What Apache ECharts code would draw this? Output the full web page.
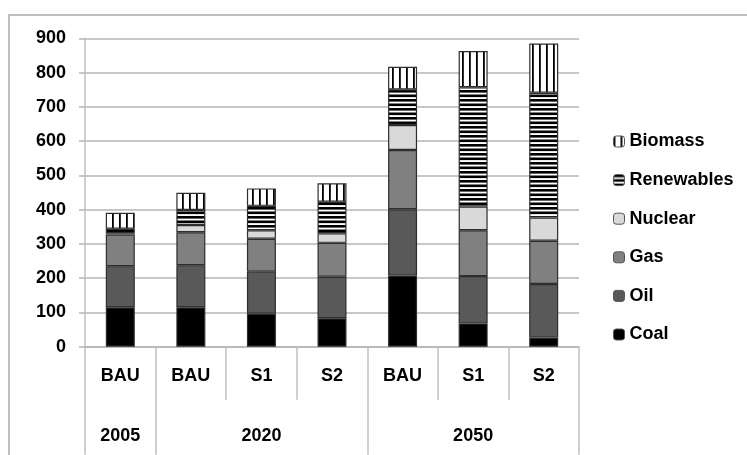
<!DOCTYPE html>
<html>
<head>
<meta charset="utf-8">
<script src="https://cdn.jsdelivr.net/npm/echarts@6/dist/echarts.min.js"></script>
<style>
html,body{margin:0;padding:0;background:#fff;}
#c{width:747px;height:455px;}
</style>
</head>
<body>
<div id="c"></div>
<script>
// ---- data ----
var scenarios = ['BAU', 'BAU', 'S1', 'S2', 'BAU', 'S1', 'S2'];
var yearLabels = ['2005', '', '2020', '', '', '2050', ''];
var yearGroupStarts = [0, 1, 4];
var coal = [115, 115, 96, 83, 208, 68, 27];
var oil = [120, 123, 123, 121, 193, 138, 156];
var gas = [92, 96, 96, 99, 173, 134, 126];
var nuclear = [4, 21, 25, 28, 73, 69, 68];
var renewables = [13, 44, 71, 92, 104, 348, 364];
var biomass = [47, 50, 51, 54, 66, 106, 144];
var yTicks = [0, 900, 100]; // min, max, interval
var legendOrder = ['Biomass', 'Renewables', 'Nuclear', 'Gas', 'Oil', 'Coal'];

// ---- patterns ----
function hStripes() {
  var c = document.createElement('canvas');
  c.width = 8; c.height = 9;
  var g = c.getContext('2d');
  g.fillStyle = '#fff'; g.fillRect(0, 0, 8, 9);
  g.fillStyle = '#000';
  g.fillRect(0, 0, 8, 2.6);
  g.fillRect(0, 4.5, 8, 2.6);
  return c;
}
function vStripes() {
  var c = document.createElement('canvas');
  c.width = 7; c.height = 8;
  var g = c.getContext('2d');
  g.fillStyle = '#fff'; g.fillRect(0, 0, 7, 8);
  g.fillStyle = '#000';
  g.fillRect(0, 0, 1.8, 8);
  return c;
}

var FONT = 'Liberation Sans';
var txt = {fontFamily: FONT, fontWeight: 'bold', fontSize: 18, color: '#000'};

function mk(name, data, color) {
  return {
    name: name, type: 'bar', stack: 'total', data: data, barWidth: 29,
    itemStyle: {color: color, borderColor: '#2e2e2e', borderWidth: 1.2},
    emphasis: {disabled: true}
  };
}

var chart = echarts.init(document.getElementById('c'), null, {renderer: 'canvas'});
chart.setOption({
  animation: false,
  backgroundColor: '#fff',
  graphic: [{
    type: 'rect', shape: {x: 9, y: 15, width: 1000, height: 1000},
    style: {fill: 'none', stroke: '#c0c0c0', lineWidth: 2}, silent: true
  }],
  grid: {left: 85, right: 168, top: 38.3, bottom: 108.3, containLabel: false},
  legend: {
    orient: 'vertical', left: 613, top: 132.5,
    data: legendOrder, itemWidth: 11, itemHeight: 11, itemGap: 20.6,
    padding: 0, textStyle: txt, selectedMode: false,
    itemStyle: {borderColor: '#555', borderWidth: 1}
  },
  xAxis: [{
    type: 'category', data: scenarios, position: 'bottom',
    axisLine: {show: true, lineStyle: {color: '#b5b5b5', width: 1.5}},
    axisTick: {show: true, interval: 0, length: 53, lineStyle: {color: '#c0c0c0', width: 1.5}},
    axisLabel: Object.assign({interval: 0, margin: 20.5}, txt)
  }, {
    type: 'category', data: yearLabels, position: 'bottom',
    axisLine: {show: false},
    axisTick: {show: true, length: 108,
      interval: function (i) { return yearGroupStarts.indexOf(i) >= 0; },
      lineStyle: {color: '#c0c0c0', width: 1.5}},
    axisLabel: Object.assign({interval: 0, margin: 80.5}, txt)
  }],
  yAxis: {
    type: 'value', min: yTicks[0], max: yTicks[1], interval: yTicks[2],
    axisLine: {show: true, lineStyle: {color: '#c0c0c0', width: 1.5}},
    axisTick: {show: true, length: 6, lineStyle: {color: '#b5b5b5', width: 1.5}},
    splitLine: {show: true, lineStyle: {color: '#b5b5b5', width: 1.5}},
    axisLabel: Object.assign({margin: 19}, txt)
  },
  series: [
    mk('Coal', coal, '#000000'),
    mk('Oil', oil, '#595959'),
    mk('Gas', gas, '#808080'),
    mk('Nuclear', nuclear, '#d9d9d9'),
    mk('Renewables', renewables, {image: hStripes(), repeat: 'repeat'}),
    mk('Biomass', biomass, {image: vStripes(), repeat: 'repeat'})
  ]
});
</script>
</body>
</html>
